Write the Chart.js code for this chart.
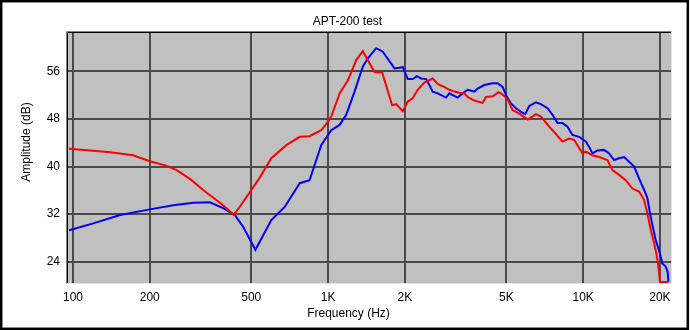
<!DOCTYPE html>
<html>
<head>
<meta charset="utf-8">
<script src="https://cdn.jsdelivr.net/npm/chart.js@4"></script>
<style>
  html, body { margin: 0; padding: 0; background: #ffffff; overflow: hidden; }
  canvas { display: block; }
</style>
</head>
<body>
<canvas id="c" width="690" height="330"></canvas>
<script>
// ---- data ----
const chartTitle = 'APT-200 test';
const xAxisTitle = 'Frequency (Hz)';
const yAxisTitle = 'Amplitude (dB)';

const xTickValues = [100, 200, 500, 1000, 2000, 5000, 10000, 20000];
const xTickLabels = ['100', '200', '500', '1K', '2K', '5K', '10K', '20K'];
const yTickValues = [24, 32, 40, 48, 56];

const redFreq = [96.5, 117, 140, 172, 200, 230, 255, 290, 323, 380, 427,
  450, 539, 599, 686, 774, 846, 940, 998, 1029, 1110, 1196, 1289, 1368,
  1521, 1630, 1783, 1849, 1963, 2052, 2148, 2246, 2386, 2571, 2691, 2814,
  2989, 3127, 3271, 3422, 3525, 3743, 4035, 4160, 4418, 4663, 4836, 5058,
  5289, 5617, 6058, 6532, 6830, 7360, 7697, 8295, 8813, 9220, 9940, 10240,
  10870, 11550, 12450, 13020, 13830, 14690, 15600, 16560, 17330, 17860,
  18420, 18970, 19370, 19700, 20000, 21600];
const redDb = [43.0, 42.7, 42.4, 41.9, 40.9, 40.2, 39.4, 37.8, 36.1, 33.8, 31.9,
  33.2, 38.1, 41.4, 43.6, 45.0, 45.1, 46.1, 47.5, 48.4, 52.3, 54.5, 57.9, 59.4,
  55.9, 55.8, 50.3, 50.5, 49.3, 50.9, 51.5, 52.9, 54.1, 54.8, 53.9, 53.5,
  52.9, 52.6, 52.4, 52.3, 51.7, 51.1, 50.7, 51.7, 51.8, 52.5, 52.1, 51.3,
  49.5, 48.9, 47.9, 48.8, 48.4, 46.7, 45.8, 44.2, 44.7, 44.5, 42.2, 42.5,
  41.9, 41.6, 41.1, 39.4, 38.6, 37.7, 36.3, 35.8, 34.4, 32.1,
  29.3, 27.1, 25.4, 23.4, 20.6, 20.6];

const blueFreq = [96.5, 120, 153, 200, 247, 296, 344, 388, 431, 464, 519,
  599, 676, 774, 846, 940, 1029, 1110, 1178, 1270, 1368, 1432, 1544, 1639,
  1821, 1900, 1963, 2052, 2148, 2227, 2317, 2423, 2496, 2571, 2691, 2773,
  2901, 2989, 3220, 3371, 3525, 3743, 3858, 4098, 4418, 4620, 4836, 4983,
  5212, 5452, 5703, 5929, 6149, 6532, 6830, 7249, 7585, 7931, 8295, 8681,
  9081, 9645, 10240, 10560, 10870, 11380, 12080, 12640, 13220, 13830, 14470,
  15140, 15840, 16560, 17330, 17860, 18240, 18670, 19260, 20000, 20430,
  21060, 21440, 21600];
const blueDb = [29.3, 30.45, 31.85, 32.8, 33.5, 33.9, 34.0, 33.0, 31.85, 29.9, 26.0,
  31.0, 33.2, 37.2, 37.7, 43.6, 46.1, 47.0, 48.7, 52.6, 56.8, 58.2, 59.9, 59.3,
  56.5, 56.6, 56.7, 54.7, 54.7, 55.2, 54.8, 54.7, 53.7, 52.6, 52.3, 52.0,
  51.6, 52.3, 51.6, 52.3, 52.9, 52.6, 53.1, 53.7, 54.0, 54.0, 53.4, 52.0,
  50.6, 49.8, 49.2, 48.8, 50.2, 50.8, 50.5, 49.8, 48.7, 47.3, 47.3, 46.7,
  45.3, 45.0, 44.2, 43.3, 42.2, 42.7, 42.8, 42.2, 41.1, 41.4, 41.6,
  40.8, 40.0, 38.0, 36.1, 34.7, 32.4, 30.2, 27.6, 25.4, 23.7,
  23.2, 22.3, 20.6];

// ---- build chart ----
const FONT = '"Liberation Sans", Arial, sans-serif';
const toPoints = (xs, ys) => xs.map((x, i) => ({ x: x, y: ys[i] }));

const framePlugin = {
  id: 'frame',
  beforeDraw(chart) {
    const { ctx, chartArea: a, width, height } = chart;
    ctx.save();
    ctx.fillStyle = '#ffffff';
    ctx.fillRect(0, 0, width, height);
    ctx.fillStyle = '#c0c0c0';
    ctx.fillRect(a.left, a.top, a.right - a.left, a.bottom - a.top);
    ctx.restore();
  },
  afterDraw(chart) {
    const { ctx, chartArea: a, width, height } = chart;
    ctx.save();
    // sunken frame of the plot area
    ctx.lineWidth = 1;
    ctx.strokeStyle = '#808080';
    ctx.beginPath();
    ctx.moveTo(a.left - 1.5, a.bottom + 1);
    ctx.lineTo(a.left - 1.5, a.top - 1.5);
    ctx.lineTo(a.right + 1, a.top - 1.5);
    ctx.stroke();
    ctx.strokeStyle = '#000000';
    ctx.beginPath();
    ctx.moveTo(a.left - 0.5, a.bottom);
    ctx.lineTo(a.left - 0.5, a.top - 0.5);
    ctx.lineTo(a.right, a.top - 0.5);
    ctx.stroke();
    ctx.strokeStyle = '#e4e4e4';
    ctx.beginPath();
    ctx.moveTo(a.left - 1.5, a.bottom + 0.5);
    ctx.lineTo(a.right + 0.5, a.bottom + 0.5);
    ctx.lineTo(a.right + 0.5, a.top - 1.5);
    ctx.stroke();
    // outer black border
    ctx.lineWidth = 2.5;
    ctx.strokeStyle = '#000000';
    ctx.strokeRect(1.2, 1.2, width - 3.4, height - 2.4);
    // axis titles
    ctx.fillStyle = '#000000';
    ctx.font = '12px ' + FONT;
    ctx.textAlign = 'center';
    ctx.textBaseline = 'middle';
    ctx.fillText(xAxisTitle, 348.5, 313.5);
    ctx.translate(26.5, 142);
    ctx.rotate(-Math.PI / 2);
    ctx.fillText(yAxisTitle, 0, 0);
    ctx.restore();
  }
};

new Chart(document.getElementById('c'), {
  type: 'line',
  data: {
    datasets: [
      {
        label: 'red',
        data: toPoints(redFreq, redDb),
        borderColor: '#ff0000',
        backgroundColor: '#ff0000',
        borderWidth: 2,
        pointRadius: 0,
        tension: 0,
        fill: false
      },
      {
        label: 'blue',
        data: toPoints(blueFreq, blueDb),
        borderColor: '#0000ff',
        backgroundColor: '#0000ff',
        borderWidth: 2,
        pointRadius: 0,
        tension: 0,
        fill: false
      }
    ]
  },
  options: {
    responsive: false,
    animation: false,
    devicePixelRatio: 1,
    layout: { padding: { left: 24, right: 19, top: 0, bottom: 0 } },
    plugins: {
      legend: { display: false },
      tooltip: { enabled: false },
      title: {
        display: true,
        text: chartTitle,
        color: '#000000',
        font: { family: FONT, size: 12, weight: 'normal', lineHeight: 1.25 },
        padding: { top: 14.5, bottom: 3.5 }
      }
    },
    scales: {
      x: {
        type: 'logarithmic',
        min: 95.6,
        max: 22100,
        afterBuildTicks(scale) {
          scale.ticks = xTickValues.map(v => ({ value: v }));
        },
        afterFit(scale) { scale.height = 47; },
        ticks: {
          autoSkip: false,
          maxRotation: 0,
          minRotation: 0,
          padding: 7,
          color: '#000000',
          font: { family: FONT, size: 12 },
          callback(value) {
            const i = xTickValues.indexOf(value);
            return i >= 0 ? xTickLabels[i] : '';
          }
        },
        grid: { color: '#4a4a4a', lineWidth: 2, drawTicks: false },
        border: { display: false }
      },
      y: {
        type: 'linear',
        min: 20.42,
        max: 62.45,
        afterBuildTicks(scale) {
          scale.ticks = yTickValues.map(v => ({ value: v }));
        },
        afterFit(scale) { scale.width = 44; },
        ticks: {
          padding: 8,
          color: '#000000',
          font: { family: FONT, size: 12 },
          callback(value) { return String(value); }
        },
        grid: { color: '#4a4a4a', lineWidth: 2, drawTicks: false },
        border: { display: false }
      }
    }
  },
  plugins: [framePlugin]
});
</script>
</body>
</html>
